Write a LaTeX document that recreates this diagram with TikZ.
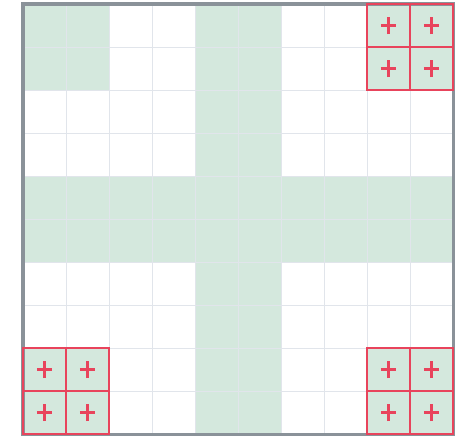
\documentclass[tikz,border=0pt]{standalone}
\usepackage{xcolor}
\usepackage{tikz}

\definecolor{cellgreen}{HTML}{D4E8DD}
\definecolor{gridgray}{HTML}{E1E5EB}
\definecolor{framegray}{HTML}{8A9299}
\definecolor{markred}{HTML}{E8445C}

\begin{document}
\begin{tikzpicture}[line width=0.6pt]
  \useasboundingbox (-0.535,-0.093) rectangle (10.209,10.093);
  % shaded cells
  \fill[cellgreen] (0,8) rectangle (2,10);
  \fill[cellgreen] (4,0) rectangle (6,10);
  \fill[cellgreen] (0,4) rectangle (10,6);
  \foreach \cx/\cy in {8/8,0/0,8/0}{
    \fill[cellgreen] (\cx,\cy) rectangle (\cx+2,\cy+2);
  }
  % grid
  \draw[gridgray] (0,0) grid (10,10);
  \draw[framegray, line width=2pt] (0,0) rectangle (10,10);
  % marked corner blocks
  \foreach \cx/\cy in {8/8,0/0,8/0}{
    \foreach \i in {0,1}{
      \foreach \j in {0,1}{
        \draw[markred, line width=1.6pt] (\cx+\i,\cy+\j) rectangle (\cx+\i+1,\cy+\j+1);
        \draw[markred, line width=1.9pt] (\cx+\i+0.32,\cy+\j+0.5) -- (\cx+\i+0.68,\cy+\j+0.5);
        \draw[markred, line width=1.9pt] (\cx+\i+0.5,\cy+\j+0.3) -- (\cx+\i+0.5,\cy+\j+0.7);
      }
    }
  }
\end{tikzpicture}
\end{document}
